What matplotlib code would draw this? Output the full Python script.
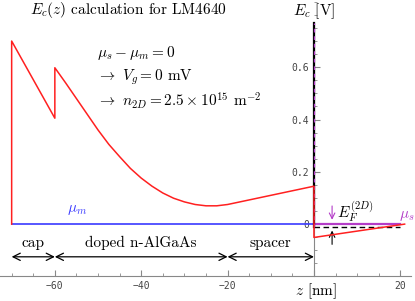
import numpy as np
import matplotlib
matplotlib.use("Agg")
import matplotlib.pyplot as plt
from matplotlib.ticker import MultipleLocator, FixedLocator

plt.rcParams['mathtext.fontset'] = 'cm'

# conduction band edge E_c(z)
ec_z = [-70, -70, -60, -60, -57.5, -55, -52.5, -50, -47.5, -45, -42.5, -40,
        -37.5, -35, -32.5, -30, -27.5, -25, -22.5, -20, -10, 0, 0, 21]
ec_v = [0.0, 0.70, 0.405, 0.598, 0.54, 0.48, 0.42, 0.36, 0.305, 0.258, 0.213, 0.176,
        0.145, 0.119, 0.099, 0.085, 0.075, 0.070, 0.070, 0.075, 0.110, 0.145, -0.051, 0.0]

mu_m_z = [-70, 0]
mu_m_v = [0.0, 0.0]
mu_s_z = [0, 20]
mu_s_v = [0.0, 0.0]
e0_z = [0, 20]
e0_v = [-0.01, -0.01]

layers = ["cap", "doped n-AlGaAs", "spacer"]
layer_edges = [-70, -60, -20, 0]

RED = '#ff2020'
BLUE = '#3a3aff'
PURPLE = '#b43cc8'

fig = plt.figure(figsize=(4.15, 3.01), dpi=100)
ax = fig.add_axes([0, 0, 1, 1])
ax.set_xlim(-72.7, 23.4)
ax.set_ylim(-0.294, 0.857)
ax.patch.set_alpha(0)

# axes like Mathematica: cross at (0, -0.2)
for s in ['top', 'right']:
    ax.spines[s].set_visible(False)
ax.spines['left'].set_position(('data', 0))
ax.spines['bottom'].set_position(('data', -0.2))
ax.spines['left'].set_bounds(-0.2, 0.77)
ax.spines['bottom'].set_bounds(-72.7, 22.5)
ax.spines['bottom'].set_color('#888888')
ax.spines['left'].set_color('#888888')

ax.xaxis.set_major_locator(FixedLocator([-60, -40, -20, 0, 20]))
ax.xaxis.set_minor_locator(MultipleLocator(5))
ax.yaxis.set_major_locator(FixedLocator([0, 0.2, 0.4, 0.6]))
ax.yaxis.set_minor_locator(MultipleLocator(0.05))
ax.set_xticklabels(['\u221260', '\u221240', '\u221220', '', '20'])
ax.set_yticklabels(['0', '0.2', '0.4', '0.6'])
ax.tick_params(which='both', direction='in', color='#888888', labelcolor='#444444',
               labelsize=7)
ax.tick_params(which='major', length=4)
ax.tick_params(which='minor', length=2)
for lab in ax.get_xticklabels() + ax.get_yticklabels():
    lab.set_family('DejaVu Sans Mono')

# vertical barrier line at z=0
ax.plot([0, 0], [-0.01, 0.77], color='black', lw=1.6, zorder=3)
ax.plot([0, 0], [-0.01, 0.77], color=PURPLE, lw=0.9, ls=(0, (3, 3)), zorder=4)

ax.plot(mu_m_z, mu_m_v, color=BLUE, lw=1.2, zorder=2)
ax.plot(mu_s_z, mu_s_v, color=PURPLE, lw=1.6, zorder=2)
ax.plot(e0_z, e0_v, color='black', lw=1.0, ls=(0, (4, 2.5)), zorder=3)
ax.plot(ec_z, ec_v, color=RED, lw=1.1, zorder=5)

# E_F arrows
ax.annotate('', xy=(4.2, 0.006), xytext=(4.2, 0.08),
            arrowprops=dict(arrowstyle='->', color=PURPLE, lw=0.8))
ax.annotate('', xy=(4.2, -0.014), xytext=(4.2, -0.088),
            arrowprops=dict(arrowstyle='->', color='black', lw=0.8))

# layer arrows
for i, name in enumerate(layers):
    z0, z1 = layer_edges[i], layer_edges[i + 1]
    ax.annotate('', xy=(z0, -0.125), xytext=(z1, -0.125),
                arrowprops=dict(arrowstyle='<->', color='black', lw=0.9,
                                shrinkA=0, shrinkB=0, mutation_scale=13))
    ax.text((z0 + z1) / 2, -0.072, name, family='cmr10', fontsize=11,
            ha='center', va='center')

tkw = dict(family='cmr10', fontsize=11)
ax.text(-43, 0.818, r'$E_c(z)$ calculation for LM4640', ha='center', va='center', **tkw)
ax.text(0, 0.815, r'$E_c$ [V]', ha='center', va='center', **tkw)
ax.text(0.5, -0.255, r'$z$ [nm]', ha='center', va='center', **tkw)
ax.text(-50.2, 0.654, r'$\mu_s - \mu_m = 0$', ha='left', va='center', **tkw)
ax.text(-50.2, 0.562, r'$\rightarrow\ V_g = 0$ mV', ha='left', va='center', **tkw)
ax.text(-50.2, 0.474, r'$\rightarrow\ n_{2D} = 2.5\times 10^{15}$ m$^{-2}$',
        ha='left', va='center', **tkw)
ax.text(-54.8, 0.054, r'$\mu_m$', color=BLUE, ha='center', va='center', **tkw)
ax.text(21.6, 0.03, r'$\mu_s$', color=PURPLE, ha='center', va='center', **tkw)
ax.text(5.3, 0.046, r'$E_F^{(2D)}$', ha='left', va='center', **tkw)

fig.savefig('out.png', dpi=100)
